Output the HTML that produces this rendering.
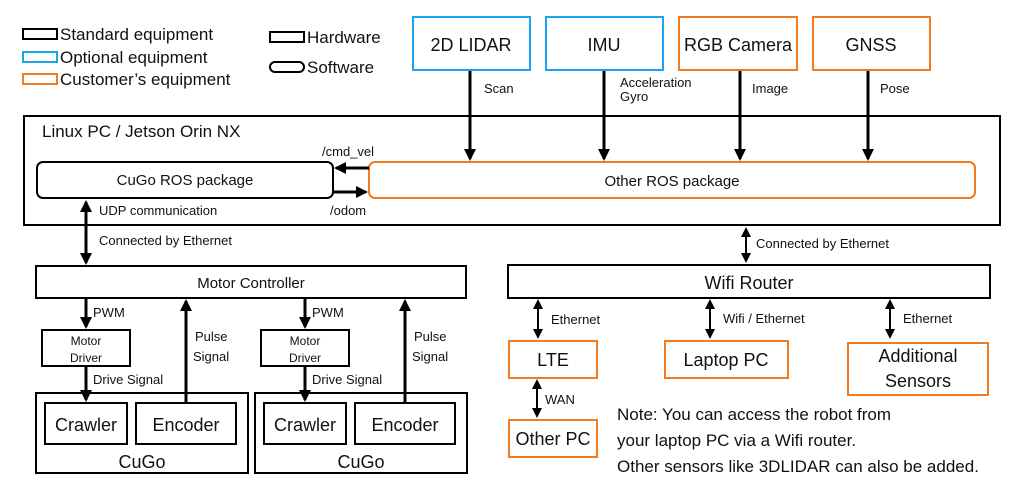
<!DOCTYPE html>
<html><head><meta charset="utf-8"><style>
html,body{margin:0;padding:0;background:#fff;}
svg{display:block;font-family:"Liberation Sans",sans-serif;}
</style></head><body>
<svg width="1030" height="498" viewBox="0 0 1030 498" xmlns="http://www.w3.org/2000/svg">
<defs>
<marker id="a" markerWidth="12" markerHeight="12" refX="10" refY="6" orient="auto" markerUnits="userSpaceOnUse"><path d="M0,0 L12,6 L0,12 z" fill="#000"/></marker>
<marker id="b" markerWidth="12" markerHeight="12" refX="2" refY="6" orient="auto" markerUnits="userSpaceOnUse"><path d="M12,0 L0,6 L12,12 z" fill="#000"/></marker>
<marker id="c" markerWidth="10" markerHeight="10" refX="8" refY="5" orient="auto" markerUnits="userSpaceOnUse"><path d="M0,0 L10,5 L0,10 z" fill="#000"/></marker>
<marker id="d" markerWidth="10" markerHeight="10" refX="2" refY="5" orient="auto" markerUnits="userSpaceOnUse"><path d="M10,0 L0,5 L10,10 z" fill="#000"/></marker>
</defs>
<g fill="none" stroke-width="2">
<rect x="23" y="29" width="34" height="10" stroke="#000"/>
<rect x="23" y="52" width="34" height="10" stroke="#1aa3f0"/>
<rect x="23" y="74" width="34" height="10" stroke="#f47a1f"/>
<rect x="270" y="32" width="34" height="10" stroke="#000"/>
<rect x="270" y="62" width="34" height="10" rx="5" stroke="#000"/>
<rect x="413" y="17" width="117" height="53" stroke="#1aa3f0"/>
<rect x="546" y="17" width="117" height="53" stroke="#1aa3f0"/>
<rect x="679" y="17" width="118" height="53" stroke="#f47a1f"/>
<rect x="813" y="17" width="117" height="53" stroke="#f47a1f"/>
<rect x="24" y="116" width="976" height="109" stroke="#000"/>
<rect x="37" y="162" width="296" height="36" rx="6" stroke="#000"/>
<rect x="369" y="162" width="606" height="36" rx="6" stroke="#f47a1f"/>
<rect x="36" y="266" width="430" height="32" stroke="#000"/>
<rect x="42" y="330" width="88" height="36" stroke="#000"/>
<rect x="261" y="330" width="88" height="36" stroke="#000"/>
<rect x="36" y="393" width="212" height="80" stroke="#000"/>
<rect x="45" y="403" width="82" height="41" stroke="#000"/>
<rect x="136" y="403" width="100" height="41" stroke="#000"/>
<rect x="255" y="393" width="212" height="80" stroke="#000"/>
<rect x="264" y="403" width="82" height="41" stroke="#000"/>
<rect x="355" y="403" width="100" height="41" stroke="#000"/>
<rect x="508" y="265" width="482" height="33" stroke="#000"/>
<rect x="509" y="341" width="88" height="37" stroke="#f47a1f"/>
<rect x="665" y="341" width="123" height="37" stroke="#f47a1f"/>
<rect x="848" y="343" width="140" height="52" stroke="#f47a1f"/>
<rect x="509" y="420" width="88" height="37" stroke="#f47a1f"/>
</g>
<g stroke="#000" stroke-width="3" fill="none">
<line x1="470" y1="71" x2="470" y2="159" marker-end="url(#a)"/>
<line x1="604" y1="71" x2="604" y2="159" marker-end="url(#a)"/>
<line x1="740" y1="71" x2="740" y2="159" marker-end="url(#a)"/>
<line x1="868" y1="71" x2="868" y2="159" marker-end="url(#a)"/>
<line x1="369" y1="168" x2="336" y2="168" marker-end="url(#a)"/>
<line x1="333" y1="192" x2="366" y2="192" marker-end="url(#a)"/>
<line x1="86" y1="202" x2="86" y2="263" marker-start="url(#b)" marker-end="url(#a)"/>
<line x1="86" y1="299" x2="86" y2="327" marker-end="url(#a)"/>
<line x1="86" y1="367" x2="86" y2="400" marker-end="url(#a)"/>
<line x1="186" y1="403" x2="186" y2="301" marker-end="url(#a)"/>
<line x1="305" y1="299" x2="305" y2="327" marker-end="url(#a)"/>
<line x1="305" y1="367" x2="305" y2="400" marker-end="url(#a)"/>
<line x1="405" y1="403" x2="405" y2="301" marker-end="url(#a)"/>
</g>
<g stroke="#000" stroke-width="2" fill="none">
<line x1="746" y1="229" x2="746" y2="261" marker-start="url(#d)" marker-end="url(#c)"/>
<line x1="538" y1="301" x2="538" y2="337" marker-start="url(#d)" marker-end="url(#c)"/>
<line x1="710" y1="301" x2="710" y2="337" marker-start="url(#d)" marker-end="url(#c)"/>
<line x1="890" y1="301" x2="890" y2="337" marker-start="url(#d)" marker-end="url(#c)"/>
<line x1="537" y1="381" x2="537" y2="416" marker-start="url(#d)" marker-end="url(#c)"/>
</g>
<g fill="#111" font-size="17">
<text x="60" y="40">Standard equipment</text>
<text x="60" y="63">Optional equipment</text>
<text x="60" y="85">Customer’s equipment</text>
<text x="307" y="43">Hardware</text>
<text x="307" y="73">Software</text>
</g>
<g fill="#111" font-size="18" text-anchor="middle">
<text x="471" y="51">2D LIDAR</text>
<text x="604" y="51">IMU</text>
<text x="738" y="51">RGB Camera</text>
<text x="871" y="51">GNSS</text>
<text x="86" y="431">Crawler</text>
<text x="186" y="431">Encoder</text>
<text x="305" y="431">Crawler</text>
<text x="405" y="431">Encoder</text>
<text x="142" y="468">CuGo</text>
<text x="361" y="468">CuGo</text>
<text x="553" y="366">LTE</text>
<text x="726" y="366">Laptop PC</text>
<text x="918" y="362">Additional</text>
<text x="918" y="387">Sensors</text>
<text x="553" y="445">Other PC</text>
<text x="749" y="289">Wifi Router</text>
</g>
<g fill="#111" font-size="17">
<text x="42" y="137">Linux PC / Jetson Orin NX</text>
<text x="617" y="420">Note: You can access the robot from</text>
<text x="617" y="446">your laptop PC via a Wifi router.</text>
<text x="617" y="472">Other sensors like 3DLIDAR can also be added.</text>
</g>
<g fill="#111" font-size="15" text-anchor="middle">
<text x="185" y="185">CuGo ROS package</text>
<text x="672" y="186">Other ROS package</text>
<text x="251" y="288">Motor Controller</text>
</g>
<g fill="#111" font-size="12" text-anchor="middle">
<text x="86" y="345">Motor</text>
<text x="86" y="362">Driver</text>
<text x="305" y="345">Motor</text>
<text x="305" y="362">Driver</text>
</g>
<g fill="#111" font-size="13">
<text x="484" y="93">Scan</text>
<text x="620" y="87">Acceleration</text>
<text x="620" y="101">Gyro</text>
<text x="752" y="93">Image</text>
<text x="880" y="93">Pose</text>
<text x="322" y="156">/cmd_vel</text>
<text x="330" y="215">/odom</text>
<text x="99" y="215">UDP communication</text>
<text x="99" y="245">Connected by Ethernet</text>
<text x="93" y="317">PWM</text>
<text x="93" y="384">Drive Signal</text>
<text x="195" y="341">Pulse</text>
<text x="193" y="361">Signal</text>
<text x="312" y="317">PWM</text>
<text x="312" y="384">Drive Signal</text>
<text x="414" y="341">Pulse</text>
<text x="412" y="361">Signal</text>
<text x="756" y="248">Connected by Ethernet</text>
<text x="551" y="324">Ethernet</text>
<text x="723" y="323">Wifi / Ethernet</text>
<text x="903" y="323">Ethernet</text>
<text x="545" y="404">WAN</text>
</g>
</svg>
</body></html>
